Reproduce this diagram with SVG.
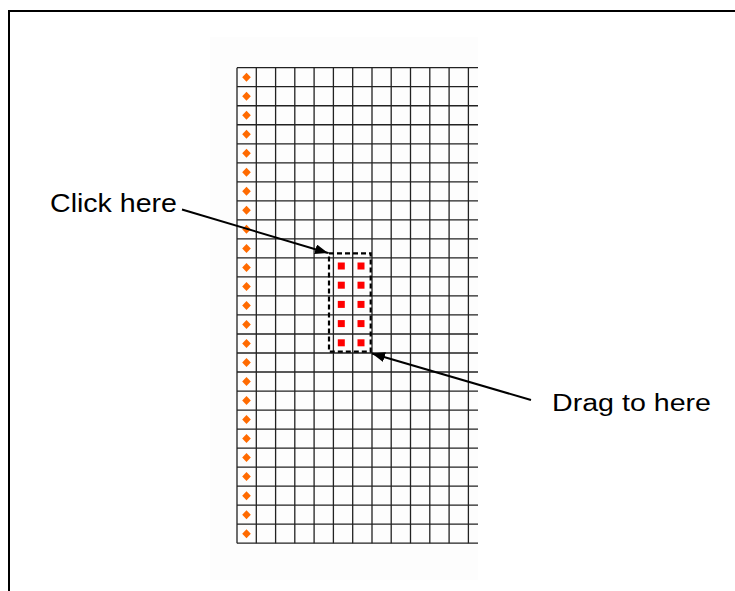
<svg xmlns="http://www.w3.org/2000/svg" xmlns:xlink="http://www.w3.org/1999/xlink" width="735" height="591" viewBox="0 0 735 591">
<style>
.lbl{font-family:"Liberation Sans",Arial,sans-serif;fill:#000}
.grid{stroke:#222;stroke-width:1.3;fill:none}
.conn{stroke:#000;stroke-width:2;fill:none}
.sel{stroke:#000;stroke-width:2.2;fill:none;stroke-dasharray:5 3}
.dot{fill:#ff0000}
.dia{fill:#ff6a00}
</style>
<defs>
<marker id="ah" viewBox="0 0 13 10" refX="13" refY="5" markerWidth="13" markerHeight="10" markerUnits="userSpaceOnUse" orient="auto">
<path d="M0,0 L13,5 L0,10 Z" fill="#000"/>
</marker>
<polygon id="d" points="246.5,72.7 250.8,77.2 246.5,81.7 242.2,77.2"/>
</defs>
<rect width="735" height="591" fill="#fff"/>
<path d="M9,591 V11 H735" stroke="#000" stroke-width="2" fill="none"/>
<rect x="210" y="37" width="268" height="543" fill="#fdfdfd"/>
<g id="grid">
<path class="grid" d="M237,67.7V543.2M256.3,67.7V543.2M275.6,67.7V543.2M294.8,67.7V543.2M314.1,67.7V543.2M333.4,67.7V543.2M352.7,67.7V543.2M372,67.7V543.2M391.2,67.7V543.2M410.5,67.7V543.2M429.8,67.7V543.2M449.1,67.7V543.2M468.4,67.7V543.2"/>
<path class="grid" d="M237,67.7H478M237,86.72H478M237,105.74H478M237,124.76H478M237,143.78H478M237,162.8H478M237,181.82H478M237,200.84H478M237,219.86H478M237,238.88H478M237,257.9H478M237,276.92H478M237,295.94H478M237,314.96H478M237,333.98H478M237,353H478M237,372.02H478M237,391.04H478M237,410.06H478M237,429.08H478M237,448.1H478M237,467.12H478M237,486.14H478M237,505.16H478M237,524.18H478M237,543.2H478"/>
<g class="dia">
<use xlink:href="#d" y="0"/><use xlink:href="#d" y="19.02"/><use xlink:href="#d" y="38.04"/><use xlink:href="#d" y="57.06"/><use xlink:href="#d" y="76.08"/>
<use xlink:href="#d" y="95.1"/><use xlink:href="#d" y="114.12"/><use xlink:href="#d" y="133.14"/><use xlink:href="#d" y="152.16"/><use xlink:href="#d" y="171.18"/>
<use xlink:href="#d" y="190.2"/><use xlink:href="#d" y="209.22"/><use xlink:href="#d" y="228.24"/><use xlink:href="#d" y="247.26"/><use xlink:href="#d" y="266.28"/>
<use xlink:href="#d" y="285.3"/><use xlink:href="#d" y="304.32"/><use xlink:href="#d" y="323.34"/><use xlink:href="#d" y="342.36"/><use xlink:href="#d" y="361.38"/>
<use xlink:href="#d" y="380.4"/><use xlink:href="#d" y="399.42"/><use xlink:href="#d" y="418.44"/><use xlink:href="#d" y="437.46"/><use xlink:href="#d" y="456.48"/>
</g>
</g>
<g id="selection">
<rect class="sel" x="329" y="253.3" width="41.7" height="98.4"/>
<g class="dot">
<rect x="337.8" y="262.5" width="7" height="7"/><rect x="357.5" y="262.5" width="7" height="7"/>
<rect x="337.8" y="281.7" width="7" height="7"/><rect x="357.5" y="281.7" width="7" height="7"/>
<rect x="337.8" y="300.9" width="7" height="7"/><rect x="357.5" y="300.9" width="7" height="7"/>
<rect x="337.8" y="320.1" width="7" height="7"/><rect x="357.5" y="320.1" width="7" height="7"/>
<rect x="337.8" y="339.3" width="7" height="7"/><rect x="357.5" y="339.3" width="7" height="7"/>
</g>
</g>
<g id="label-click">
<text class="lbl" x="50" y="212" font-size="25" textLength="127" lengthAdjust="spacingAndGlyphs">Click here</text>
</g>
<g id="label-drag">
<text class="lbl" x="552" y="410.5" font-size="23.5" textLength="159" lengthAdjust="spacingAndGlyphs">Drag to here</text>
</g>
<g id="connectors">
<line class="conn" x1="182" y1="209.5" x2="328" y2="253" marker-end="url(#ah)"/>
<line class="conn" x1="531" y1="400" x2="372" y2="353.5" marker-end="url(#ah)"/>
</g>
</svg>
